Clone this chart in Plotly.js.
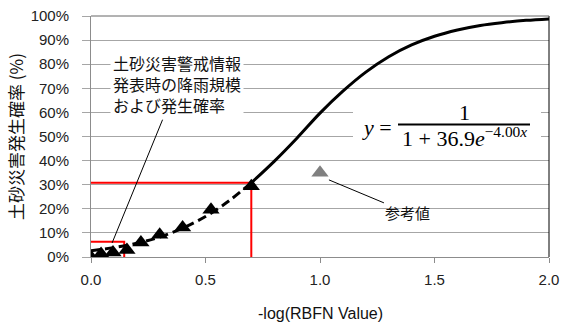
<!DOCTYPE html>
<html><head><meta charset="utf-8">
<script src="https://cdn.plot.ly/plotly-3.0.1.min.js"></script>
<style>html,body{margin:0;padding:0;background:#fff}#c{width:563px;height:323px}</style>
</head><body><div id="c"></div>
<script>
// fitted curve
const curveX = [0.0,0.1,0.2,0.3,0.4,0.5,0.6,0.7,0.8,0.9,1.0,1.1,1.2,1.3,1.4,1.5,1.6,1.7,1.8,1.9,2.0];
const curveY = [0.026,0.039,0.057,0.083,0.120,0.168,0.231,0.308,0.397,0.494,0.597,0.688,0.767,0.831,0.880,0.916,0.942,0.961,0.973,0.982,0.988];
const splitX = 0.7;
// observed points
const obsX = [0.0,0.044,0.096,0.157,0.218,0.30,0.40,0.524,0.70];
const obsY = [0.0,0.0125,0.019,0.029,0.060,0.092,0.122,0.196,0.294];
// reference point
const refX = [1.0];
const refY = [0.35];
// red guide lines
const redBigX = [0,0.7,0.7];
const redBigY = [0.308,0.308,0];
const redSmallX = [0,0.145,0.145];
const redSmallY = [0.063,0.063,0];

const xTitle = '-log(RBFN Value)';
const yTitle = '土砂災害発生確率 (%)';
const noteText = '土砂災害警戒情報<br>発表時の降雨規模<br>および発生確率';
const refText = '参考値';

const dashX=[],dashY=[],solX=[],solY=[];
curveX.forEach((x,i)=>{ if(x<=splitX){dashX.push(x);dashY.push(curveY[i]);} if(x>=splitX){solX.push(x);solY.push(curveY[i]);} });

const traces = [
 {x:redBigX,y:redBigY,mode:'lines',line:{color:'#ff0000',width:2},hoverinfo:'skip'},
 {x:redSmallX,y:redSmallY,mode:'lines',line:{color:'#ff0000',width:2},hoverinfo:'skip'},
 {x:dashX,y:dashY,mode:'lines',line:{color:'#000',width:3,dash:'9px,5px',shape:'spline'}},
 {x:solX,y:solY,mode:'lines',line:{color:'#000',width:3,shape:'spline'}},
 {x:obsX,y:obsY,mode:'markers',marker:{symbol:'triangle-up',size:15,color:'#000'}},
 {x:refX,y:refY,mode:'markers',marker:{symbol:'triangle-up',size:15,color:'#808080'}}
];

const L=91,R=549,T=16,B=257;
const px=(p)=>(p-L)/(R-L), py=(p)=>(B-p)/(B-T);
const tickFont={family:'Liberation Sans, Noto Sans CJK JP',size:15,color:'#222'};
const layout = {
 width:563,height:323,showlegend:false,
 margin:{l:L,r:563-R,t:T,b:323-B,pad:0},
 paper_bgcolor:'#fff',plot_bgcolor:'#fff',
 xaxis:{range:[0,2],dtick:0.5,tickformat:'.1f',showgrid:false,zeroline:false,
   showline:true,linecolor:'#8c8c8c',linewidth:1,ticks:'outside',ticklen:5,tickcolor:'#8c8c8c',
   tickfont:tickFont,ticklabelstandoff:4},
 yaxis:{range:[0,1],dtick:0.1,tickformat:'.0%',showgrid:true,gridcolor:'#a6a6a6',gridwidth:1,zeroline:false,
   showline:true,linecolor:'#8c8c8c',linewidth:1,ticks:'outside',ticklen:8,tickcolor:'#a6a6a6',
   tickfont:tickFont,ticklabelstandoff:10},
 shapes:[
  {type:'line',xref:'paper',yref:'paper',x0:1,x1:1,y0:0,y1:1,line:{color:'#000',width:1}},
  {type:'line',xref:'paper',yref:'paper',x0:0,x1:1,y0:1,y1:1,line:{color:'#666',width:1}},
  {type:'rect',xref:'paper',yref:'paper',x0:px(353),x1:px(541),y0:py(152),y1:py(96),fillcolor:'#fff',line:{width:0},layer:'above'},
  {type:'line',xref:'paper',yref:'paper',x0:px(398),x1:px(530),y0:py(124.5),y1:py(124.5),line:{color:'#000',width:2},layer:'above'}
 ],
 annotations:[
  {xref:'paper',yref:'paper',x:px(15),y:py(137),text:yTitle,textangle:-90,showarrow:false,
   font:{family:'Noto Sans CJK JP',size:17,color:'#111'},xanchor:'center',yanchor:'middle'},
  {xref:'paper',yref:'paper',x:px(320),y:py(313),text:xTitle,showarrow:false,
   font:{family:'Liberation Sans, Noto Sans CJK JP',size:16,color:'#111'},xanchor:'center',yanchor:'middle'},
  {x:0.092,y:0.058,ax:0.376,ay:0.717,axref:'x',ayref:'y',text:noteText,showarrow:true,arrowhead:0,arrowwidth:1,arrowcolor:'#000',
   bgcolor:'#fff',borderpad:2,align:'left',font:{family:'Noto Sans CJK JP',size:16,color:'#111'}},
  {x:1.039,y:0.32,ax:1.384,ay:0.183,axref:'x',ayref:'y',text:refText,showarrow:true,arrowhead:0,arrowwidth:1,arrowcolor:'#000',
   bgcolor:'rgba(0,0,0,0)',borderpad:1,font:{family:'Noto Sans CJK JP',size:15,color:'#111'}},
  {xref:'paper',yref:'paper',x:px(377),y:py(127),text:'<i>y</i> =',showarrow:false,
   font:{family:'Liberation Serif',size:22,color:'#000'},xanchor:'center',yanchor:'middle'},
  {xref:'paper',yref:'paper',x:px(464),y:py(112),text:'1',showarrow:false,
   font:{family:'Liberation Serif',size:22,color:'#000'},xanchor:'center',yanchor:'middle'},
  {xref:'paper',yref:'paper',x:px(464),y:py(137),text:'1 + 36.9<i>e</i><sup>−4.00<i>x</i></sup>',showarrow:false,
   font:{family:'Liberation Serif',size:22,color:'#000'},xanchor:'center',yanchor:'middle'}
 ]
};
Plotly.newPlot('c',traces,layout,{displayModeBar:false,staticPlot:true});
</script></body></html>
